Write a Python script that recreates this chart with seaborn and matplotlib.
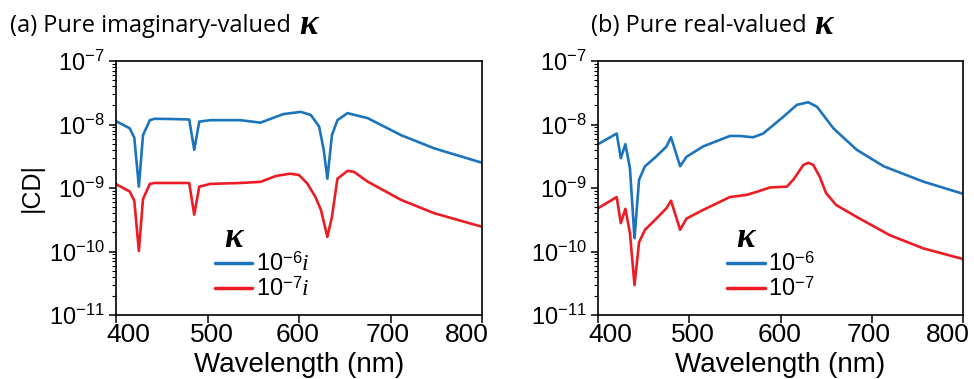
import numpy as np
import pandas as pd
import matplotlib
matplotlib.use("Agg")
import matplotlib.pyplot as plt
import seaborn as sns
from matplotlib.ticker import LogFormatterSciNotation, NullFormatter, FixedLocator
from matplotlib.transforms import ScaledTranslation

# ---------------- data ----------------
# (a) pure imaginary-valued kappa
wl_a_6 = [400, 415, 420, 425, 429.5, 437, 442, 460, 480, 485.5, 491, 503, 536, 558, 569, 583,
          602, 613, 622, 627, 631, 636, 642, 653, 675, 711.5, 748, 800]
cd_a_6 = [1.13e-8, 8.7e-9, 6.2e-9, 1.05e-9, 6.8e-9, 1.17e-8, 1.23e-8, 1.22e-8, 1.2e-8, 4.0e-9,
          1.11e-8, 1.17e-8, 1.17e-8, 1.07e-8, 1.23e-8, 1.46e-8, 1.58e-8, 1.41e-8, 9.3e-9, 4.0e-9,
          1.4e-9, 6.8e-9, 1.17e-8, 1.51e-8, 1.26e-8, 6.8e-9, 4.2e-9, 2.5e-9]
wl_a_7 = [400, 415, 420, 425, 429.5, 437, 442, 460, 480, 485.5, 491, 503, 536, 558, 575, 590.5,
          600, 609, 618, 624, 631, 636, 642, 653, 660, 675, 711.5, 748, 800]
cd_a_7 = [1.15e-9, 8.8e-10, 6.3e-10, 1.02e-10, 6.7e-10, 1.16e-9, 1.2e-9, 1.2e-9, 1.2e-9, 3.8e-10,
          1.05e-9, 1.16e-9, 1.2e-9, 1.25e-9, 1.55e-9, 1.68e-9, 1.6e-9, 1.18e-9, 7.2e-10, 4.5e-10,
          1.7e-10, 3.5e-10, 1.4e-9, 1.86e-9, 1.8e-9, 1.26e-9, 6.5e-10, 4.0e-10, 2.45e-10]

# (b) pure real-valued kappa
wl_b_6 = [400, 420.5, 425, 430, 435, 440, 445, 451.5, 464, 475, 480, 490, 497, 515, 544.5, 555,
          570, 581, 603, 618, 630.5, 640, 658, 683.5, 713, 756.5, 800]
cd_b_6 = [4.9e-9, 7.2e-9, 2.95e-9, 4.9e-9, 2.05e-9, 1.62e-10, 1.35e-9, 2.2e-9, 3.15e-9, 4.5e-9,
          6.3e-9, 2.2e-9, 3.1e-9, 4.5e-9, 6.6e-9, 6.6e-9, 6.3e-9, 7.2e-9, 1.32e-8, 2.04e-8,
          2.24e-8, 1.9e-8, 8.7e-9, 4.0e-9, 2.2e-9, 1.26e-9, 8.1e-10]
wl_b_7 = [400, 420.5, 425, 430, 435, 440, 445, 451.5, 464, 475, 480, 490, 497, 515, 544.5, 563,
          574, 588.5, 607, 614, 625, 630.5, 636, 643, 650, 661, 683.5, 720, 756.5, 800]
cd_b_7 = [4.8e-10, 7.2e-10, 2.8e-10, 4.7e-10, 1.95e-10, 2.95e-11, 1.4e-10, 2.2e-10, 3.3e-10, 4.8e-10,
          6.3e-10, 2.2e-10, 3.3e-10, 4.5e-10, 7.2e-10, 7.8e-10, 8.7e-10, 1.02e-9, 1.05e-9, 1.35e-9,
          2.3e-9, 2.5e-9, 2.3e-9, 1.5e-9, 8.3e-10, 5.4e-10, 3.5e-10, 1.8e-10, 1.12e-10, 7.6e-11]

labels_a = [r"$10^{-6}\mathit{i}$", r"$10^{-7}\mathit{i}$"]
labels_b = [r"$10^{-6}$", r"$10^{-7}$"]
title_a = "(a) Pure imaginary-valued "
title_b = "(b) Pure real-valued "
kappa = "\u03ba"
x_ticks = [400, 500, 600, 700, 800]
x_tick_labels = ["400", "500", "600", "700", "800"]
y_ticks = [1e-11, 1e-10, 1e-9, 1e-8, 1e-7]
x_label_shift_px = [12, 4, -1, -3, -15]   # label placement relative to tick (style)

colors = ["#1c75bc", "#ed1c24"]

# ---------------- style ----------------
sns.set_theme(style="ticks")
plt.rcParams["font.family"] = ["Liberation Sans", "DejaVu Sans"]
plt.rcParams["mathtext.fontset"] = "custom"
plt.rcParams["mathtext.rm"] = "Liberation Sans"
plt.rcParams["mathtext.it"] = "Liberation Serif:italic"
plt.rcParams["mathtext.bf"] = "Liberation Sans:bold"
plt.rcParams["axes.linewidth"] = 1.2
for k in ["text.color", "axes.labelcolor", "xtick.color", "ytick.color", "axes.edgecolor"]:
    plt.rcParams[k] = "black"

fs_ytick = 17
fs_xtick = 19
fs_xlabel = 20
fs_leg = 17
fs_kappa = 25

def frame(wl1, cd1, wl2, cd2, labels):
    return pd.concat([
        pd.DataFrame({"wl": wl1, "cd": cd1, "series": labels[0]}),
        pd.DataFrame({"wl": wl2, "cd": cd2, "series": labels[1]}),
    ], ignore_index=True)

df_a = frame(wl_a_6, cd_a_6, wl_a_7, cd_a_7, labels_a)
df_b = frame(wl_b_6, cd_b_6, wl_b_7, cd_b_7, labels_b)

fig = plt.figure(figsize=(9.74, 3.79), dpi=100)
ax_a = fig.add_axes([116/974, 1-315/379, 366/974, 254/379])
ax_b = fig.add_axes([598/974, 1-315/379, 365/974, 254/379])

minor_y = [m * d for d in y_ticks[:-1] for m in range(2, 10)]

panels = [(ax_a, df_a, labels_a, 0.231, 0.322), (ax_b, df_b, labels_b, 0.314, 0.403)]
for ax, df, labels, legx, kx in panels:
    sns.lineplot(data=df, x="wl", y="cd", hue="series", hue_order=labels,
                 palette=colors, linewidth=1.9, ax=ax, estimator=None, sort=False)
    ax.set_yscale("log")
    ax.set_xlim(400, 800)
    ax.set_ylim(1e-11, 1e-7)
    ax.xaxis.set_major_locator(FixedLocator(x_ticks))
    ax.set_xticklabels(x_tick_labels)
    ax.xaxis.set_minor_locator(FixedLocator([]))
    ax.yaxis.set_major_locator(FixedLocator(y_ticks))
    ax.yaxis.set_minor_locator(FixedLocator(minor_y))
    ax.yaxis.set_major_formatter(LogFormatterSciNotation())
    ax.yaxis.set_minor_formatter(NullFormatter())
    ax.tick_params(axis="both", which="major", direction="out", length=5, width=1.1)
    ax.tick_params(axis="x", which="major", labelsize=fs_xtick, length=6, pad=0)
    ax.tick_params(axis="y", which="major", labelsize=fs_ytick, pad=3)
    ax.tick_params(axis="y", which="minor", direction="out", length=3, width=0.8)
    for s in ax.spines.values():
        s.set_visible(True)
        s.set_color("black")
    ax.set_xlabel("Wavelength (nm)", fontsize=fs_xlabel)
    ax.xaxis.set_label_coords(0.5, -(372 - 315) / 254)
    ax.xaxis.label.set_va("baseline")
    ax.set_ylabel("")
    handles, _ = ax.get_legend_handles_labels()
    leg = ax.legend(handles=handles, labels=labels, loc="lower left",
                    bbox_to_anchor=(legx, 0.0), frameon=False,
                    fontsize=fs_leg, handlelength=1.6, handletextpad=0.15, labelspacing=0.05,
                    borderaxespad=0.2)
    for ln in leg.get_lines():
        ln.set_linewidth(2.5)
    ax.text(kx, 0.303, kappa, transform=ax.transAxes, fontsize=fs_kappa,
            family="Liberation Serif", style="italic", weight="bold", ha="center", va="center")

ax_a.set_ylabel("|CD|", fontsize=18, labelpad=4)

# titles
for xpix, t in [(10, title_a), (591, title_b)]:
    tx = fig.text(xpix/974, 1-26/379, t, fontsize=17, family="Open Sans", va="center", ha="left")
    fig.canvas.draw()
    bb = tx.get_window_extent()
    fig.text(bb.x1/974 + 0.002, 1-26/379, kappa, fontsize=fs_kappa, family="Liberation Serif",
             style="italic", weight="bold", va="center", ha="left")

fig.canvas.draw()
for ax in (ax_a, ax_b):
    for tick, dx in zip(ax.xaxis.get_major_ticks(), x_label_shift_px):
        lab = tick.label1
        lab.set_transform(lab.get_transform() + ScaledTranslation(dx / 100, 0, fig.dpi_scale_trans))

fig.savefig("out.png", dpi=100)
